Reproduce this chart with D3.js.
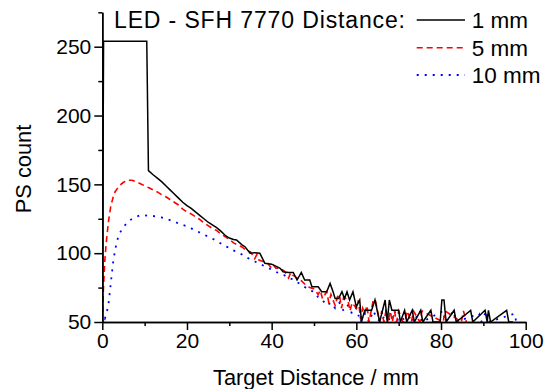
<!DOCTYPE html>
<html><head><meta charset="utf-8">
<script src="https://cdn.jsdelivr.net/npm/d3@7"></script>
<style>
html,body{margin:0;padding:0;background:#fff;}
svg text{font-family:"Liberation Sans",Arial,sans-serif;fill:#000;}
</style></head>
<body><svg id="chart" width="550" height="389"></svg>
<script>
// ---- data ----
const seriesNames = ["1 mm", "5 mm", "10 mm"];
const titleText = "LED - SFH 7770 Distance:";
const xTicks = [0, 20, 40, 60, 80, 100];
const yTicks = [50, 100, 150, 200, 250];

const x1mm = [0,0.3,10.5,10.9,12,13,14,15,16,17,18,19,20,21,22,23,24,25,26,27,28,29,30,31,31.7,33,33.7,34.9,36,37.2,38.4,40,41.2,42,42.7,44,45.1,46,47,47.8,49,49.5,51,51.8,53,53.8,54.5,55,55.8,56.6,57.2,57.8,58.4,59.2,60,60.8,61.2,62,63.6,64.4,65.5,66.8,67.3,67.8,68.4,70,70.4,71.4,71.9,73.2,73.7,75.2,75.7,77.6,78.1,79.8,80.2,80.7,81.2,83.1,83.6,87,87.5,90.4,90.9,91.2,91.7,95.5,96,97];
const y1mm = [50,254,254,160,157,154.5,152,149,146,143,140,137,134.5,132.5,130,127.5,125,122.5,120.5,118.5,116,113,111,110,109.6,106,104.7,100,100.3,100,92.6,92,90.2,89,86.5,86,86,80.5,86,80.5,80.5,75.6,75.6,72,72,78,72,67,67,72,67,72,66,72,61,66,50,58.5,58.5,66,50,66,50,66,58.5,58.5,50,58.5,50,58.5,50,58.5,50,58.5,50,50,66,66,50,58.5,50,58.5,50,58.5,50,58.5,50,58.5,50,50];

const x5mm = [0,0.25,0.6,1,1.5,2,2.5,3,4,5,6,7,8,9,10,11,12,13,14,15,16,17,18,19,20,21,22,23,24,25,26,27,28,29,30,31,32,33,34,35,36,36.5,37,38,39,40,40.5,41,42,43,44,44.5,45,46,47,48,49,50,51,51.5,52,53,53.5,54,55,55.5,56,56.5,57,58,58.5,59,60,60.5,61,61.5,62,62.5,63,63.5,64,64.5,65,65.5,66,66.5,67,67.5,68,68.5,69,69.5,70,71,71.5,72,73,73.5,75,75.5,80.5,81,84.8,85.3,86];
const y5mm = [50,73,95,110,124,134,140,144.5,149,151.5,153,153,152,150.5,149,147.5,146,144.5,142.5,141,139,137,135,132,130,128.5,126.5,124.5,122,120,118,116.5,114,112,110,107.5,106,104.5,102,101,96,99,95,94,93,89,91,89,89,87,82,86,84,82,80,77,75,74,70,73,67,72,64,70,62,68,70,60,68,66,58,64,60,66,52,60,56,62,50,58,66,66,58,50,58,50,58,50,58,50,58,50,58,50,50,58,50,58,50,58,50,58,50,58,50,50];

const x10mm = [0,0.3,0.6,1,1.5,2,2.5,3,3.5,4,5,6,7,8,9,10,11,12,13,14,15,16,17,18,19,20,21,22,23,24,25,26,27,28,29,30,31,32,33,34,35,36,37,38,39,40,41,42,43,44,45,46,47,48,49,50,51,52,53,54,55,56,57,58,59,60,61,62,63,64,65,66,67,68,69,70,73,73.5,75,75.5,80.5,81,83,83.5,89,89.5,90.7,91.2,97.3,97.8];
const y10mm = [50,54,52.5,56,64,78,92,102,109,114,119,122.5,125,126.5,127.5,127.5,127,127,126.5,126,125,124,123,121.5,120.5,119.5,118,116.5,115,113.5,112,110.5,109,107,105,104,102,100.5,99,97,95.5,94,92.5,91,89.5,88,86.5,85,84,82,81,79,77,75,73,72,68,66,62,64,60,64,58,62,56,60,50,56,50,58,52,50,58,50,58,50,56,50,58,50,58,50,58,50,56,50,58,50,56,50];

// ---- chart ----
const svg = d3.select("#chart");
const m = {l: 102.3, r: 525.7, t: 12.3, b: 322};
const x = d3.scaleLinear().domain([0, 100]).range([m.l, m.r]);
const y = d3.scaleLinear().domain([50, 275]).range([m.b, m.t]);

svg.append("defs").append("clipPath").attr("id", "clip")
  .append("rect").attr("x", m.l).attr("y", m.t).attr("width", m.r - m.l).attr("height", m.b - m.t);

const series = [
  {name: seriesNames[0], xs: x1mm, ys: y1mm, color: "#000", dash: null, w: 1.5},
  {name: seriesNames[1], xs: x5mm, ys: y5mm, color: "#ff0000", dash: "6,4", w: 1.6},
  {name: seriesNames[2], xs: x10mm, ys: y10mm, color: "#0000ff", dash: "2,6", w: 1.8}
];
const line = d3.line().x(d => x(d[0])).y(d => y(d[1]));
const g = svg.append("g").attr("clip-path", "url(#clip)");
[2, 1, 0].forEach(i => {
  const s = series[i];
  g.append("path").datum(s.xs.map((v, j) => [v, s.ys[j]]))
    .attr("d", line).attr("fill", "none").attr("stroke", s.color)
    .attr("stroke-width", s.w).attr("stroke-dasharray", s.dash)
    .attr("stroke-linejoin", "miter");
});

// axes
const xAxis = d3.axisBottom(x).tickValues(xTicks).tickSize(8).tickSizeOuter(0).tickPadding(3);
const xMinor = d3.axisBottom(x).tickValues(d3.range(10, 100, 20)).tickSize(4).tickFormat("").tickSizeOuter(0);
const yAxis = d3.axisLeft(y).tickValues(yTicks).tickSize(8).tickSizeOuter(0).tickPadding(3);
const yMinor = d3.axisLeft(y).tickValues([75, 125, 175, 225, 275]).tickSize(4).tickFormat("").tickSizeOuter(0);

const styleAxis = a => {
  a.select(".domain").attr("stroke", "#000").attr("stroke-width", 1.5);
  a.selectAll(".tick line").attr("stroke", "#000").attr("stroke-width", 1.5);
  a.selectAll("text").attr("font-size", 21).attr("font-family", "Liberation Sans, Arial, sans-serif").attr("fill", "#000");
};
svg.append("g").attr("transform", `translate(0,${m.b})`).call(xAxis).call(styleAxis);
svg.append("g").attr("transform", `translate(0,${m.b})`).call(xMinor).call(styleAxis);
svg.append("g").attr("transform", `translate(${m.l},0)`).call(yAxis).call(styleAxis);
svg.append("g").attr("transform", `translate(${m.l},0)`).call(yMinor).call(styleAxis);

// axis labels
svg.append("text").attr("x", 316).attr("y", 384.5).attr("text-anchor", "middle")
  .attr("font-size", 21.8).text("Target Distance / mm");
svg.append("text").attr("transform", `translate(31,169) rotate(-90)`).attr("text-anchor", "middle")
  .attr("font-size", 21.8).text("PS count");

// title + legend
svg.append("text").attr("x", 114).attr("y", 27.5).attr("font-size", 23)
  .attr("textLength", 291).attr("lengthAdjust", "spacing").text(titleText);
const ly = [20, 47.7, 75];
series.forEach((s, i) => {
  svg.append("line").attr("x1", 416.7).attr("x2", 465).attr("y1", ly[i]).attr("y2", ly[i])
    .attr("stroke", s.color).attr("stroke-width", s.w).attr("stroke-dasharray", s.dash);
  svg.append("text").attr("x", 471.7).attr("y", ly[i] + 8.3).attr("font-size", 22.5).text(s.name);
});
</script></body></html>
